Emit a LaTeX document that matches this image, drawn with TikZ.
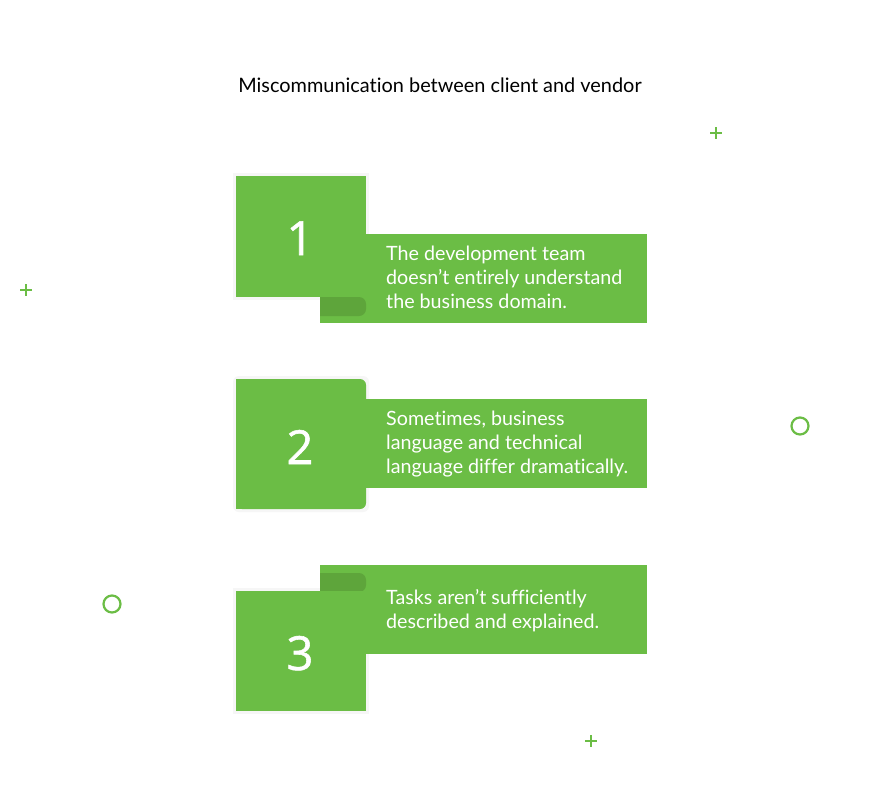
\documentclass[tikz,border=0pt]{standalone}
\usepackage{fontspec}
\setmainfont{Lato}[Ligatures=NoCommon]
\newfontfamily\numfont{Open Sans}[FakeBold=1.2]
\definecolor{grn}{HTML}{6BBD45}
\definecolor{grndark}{HTML}{5EA53B}
\definecolor{shd}{HTML}{F6F6F6}
\begin{document}
\begin{tikzpicture}[x=1pt,y=-1pt,
  box/.style={fill=grn,draw=none},
  shadowbox/.style={fill=grndark,draw=none,rounded corners=7pt},
  numtxt/.style={text=white,font=\numfont\fontsize{47}{47}\selectfont,anchor=base,inner sep=0},
  bodytxt/.style={text=white,font=\fontsize{19.7}{24}\selectfont,anchor=base west,inner sep=0},
  deco/.style={draw=grn,line width=2.2pt},
  plusdeco/.style={draw=grn,line width=2pt}]
\useasboundingbox (0,0) rectangle (880,811);
\fill[white] (0,0) rectangle (880,811);
% title
\node[anchor=base,inner sep=0,font=\fontsize{19.9}{22}\selectfont,text=black] (title) at (440,92) {Miscommunication between client and vendor};
% block 1
\fill[shd] (233,173) rectangle (369,300);
\fill[box] (320,234) rectangle (647,323);
\begin{scope}
  \clip (320,290) rectangle (372,320);
  \fill[shadowbox] (300,297) rectangle (366,316);
\end{scope}
\fill[box] (236,176) rectangle (366,297);
\node[numtxt] (n1) at (300,255) {1};
\node[bodytxt] (t1a) at (386,260) {The development team};
\node[bodytxt] (t1b) at (386,284) {doesn’t entirely understand};
\node[bodytxt] (t1c) at (386,308) {the business domain.};
% block 2
\fill[shd,rounded corners=6pt] (233,376) rectangle (369,512);
\fill[box] (360,399) rectangle (647,488);
\fill[box,rounded corners=6pt] (236,379) -- (366,379) -- (366,509) -- (236,509) [sharp corners] -- cycle;
\fill[box] (236,379) rectangle (300,509);
\node[numtxt] (n2) at (300,464) {2};
\node[bodytxt] (t2a) at (386,425) {Sometimes, business};
\node[bodytxt] (t2b) at (386,449) {language and technical};
\node[bodytxt] (t2c) at (386,473) {language differ dramatically.};
% block 3
\fill[shd] (233,588) rectangle (369,714);
\fill[box] (320,565) rectangle (647,654);
\begin{scope}
  \clip (320,566) rectangle (372,596);
  \fill[shadowbox] (300,573) rectangle (366,592);
\end{scope}
\fill[box] (236,591) rectangle (366,711);
\node[numtxt] (n3) at (300,670) {3};
\node[bodytxt] (t3a) at (386,604) {Tasks aren’t sufficiently};
\node[bodytxt] (t3b) at (386,628) {described and explained.};
% decorations
\draw[deco] (800,426) circle (8.5);
\draw[deco] (112,604) circle (8.5);
\draw[plusdeco] (710,133) -- (722,133) (716,127) -- (716,139);
\draw[plusdeco] (20,290) -- (32,290) (26,284) -- (26,296);
\draw[plusdeco] (585,741) -- (597,741) (591,735) -- (591,747);
\end{tikzpicture}
\end{document}
